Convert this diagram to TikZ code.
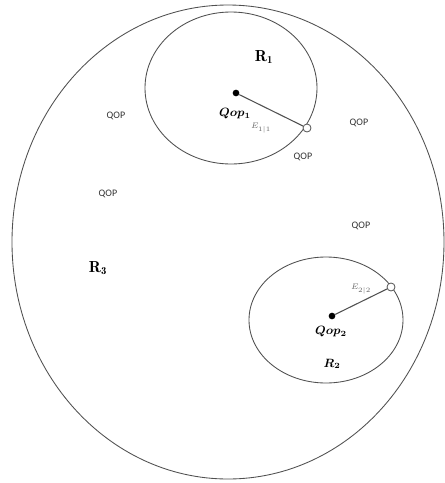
\documentclass[tikz,border=0pt]{standalone}
\usepackage{fontspec}
\usepackage{amsmath,bm}
\newfontfamily\qopfont{Carlito}
\definecolor{linegray}{HTML}{505050}
\definecolor{labgray}{HTML}{666666}
\begin{document}
\begin{tikzpicture}[x=0.75pt,y=-0.75pt,
  region/.style={draw=linegray,line width=0.65pt},
  qop/.style={font=\qopfont\fontsize{7.5}{8}\selectfont,text=black!80},
  centre/.style={circle,fill=black,inner sep=0pt,minimum size=5pt},
  rim/.style={circle,draw=linegray,fill=white,line width=0.6pt,inner sep=0pt,minimum size=6pt},
  radius/.style={draw=linegray,line width=0.8pt},
  elab/.style={font=\fontsize{6.5}{7}\selectfont,text=labgray}]
\useasboundingbox (0,0) rectangle (445,483);
% outer region R3
\draw[region] (228,242) ellipse [x radius=216, y radius=237];
% region R1
\draw[region] (231,88) ellipse [x radius=86, y radius=76];
% region R2
\draw[region] (326,320) ellipse [x radius=77, y radius=63];
% centres and rim points
\node[rim] (r1) at (307,128) {};
\node[centre] (c1) at (236,93) {};
\draw[radius] (c1) -- (r1);
\node[rim] (r2) at (391,287) {};
\node[centre] (c2) at (332,316) {};
\draw[radius] (c2) -- (r2);
% labels
\node (lR1) at (264,57) {\fontsize{12}{13}\selectfont$\mathbf{R_1}$};
\node (lQ1) at (235,114) {\fontsize{9}{10}\selectfont$\bm{Qop_1}$};
\node[elab] (lE1) at (261,128) {$E_{1|1}$};
\node (lR3) at (98,268) {\fontsize{12}{13}\selectfont$\mathbf{R_3}$};
\node (lQ2) at (331,332) {\fontsize{9}{10}\selectfont$\bm{Qop_2}$};
\node (lR2) at (332,364) {\fontsize{9}{10}\selectfont$\bm{R_2}$};
\node[elab] (lE2) at (361,289) {$E_{2|2}$};
\node[qop] (q1) at (116,116) {QOP};
\node[qop] (q2) at (108,194) {QOP};
\node[qop] (q3) at (303,157) {QOP};
\node[qop] (q4) at (359,123) {QOP};
\node[qop] (q5) at (361,226) {QOP};
\end{tikzpicture}
\end{document}
